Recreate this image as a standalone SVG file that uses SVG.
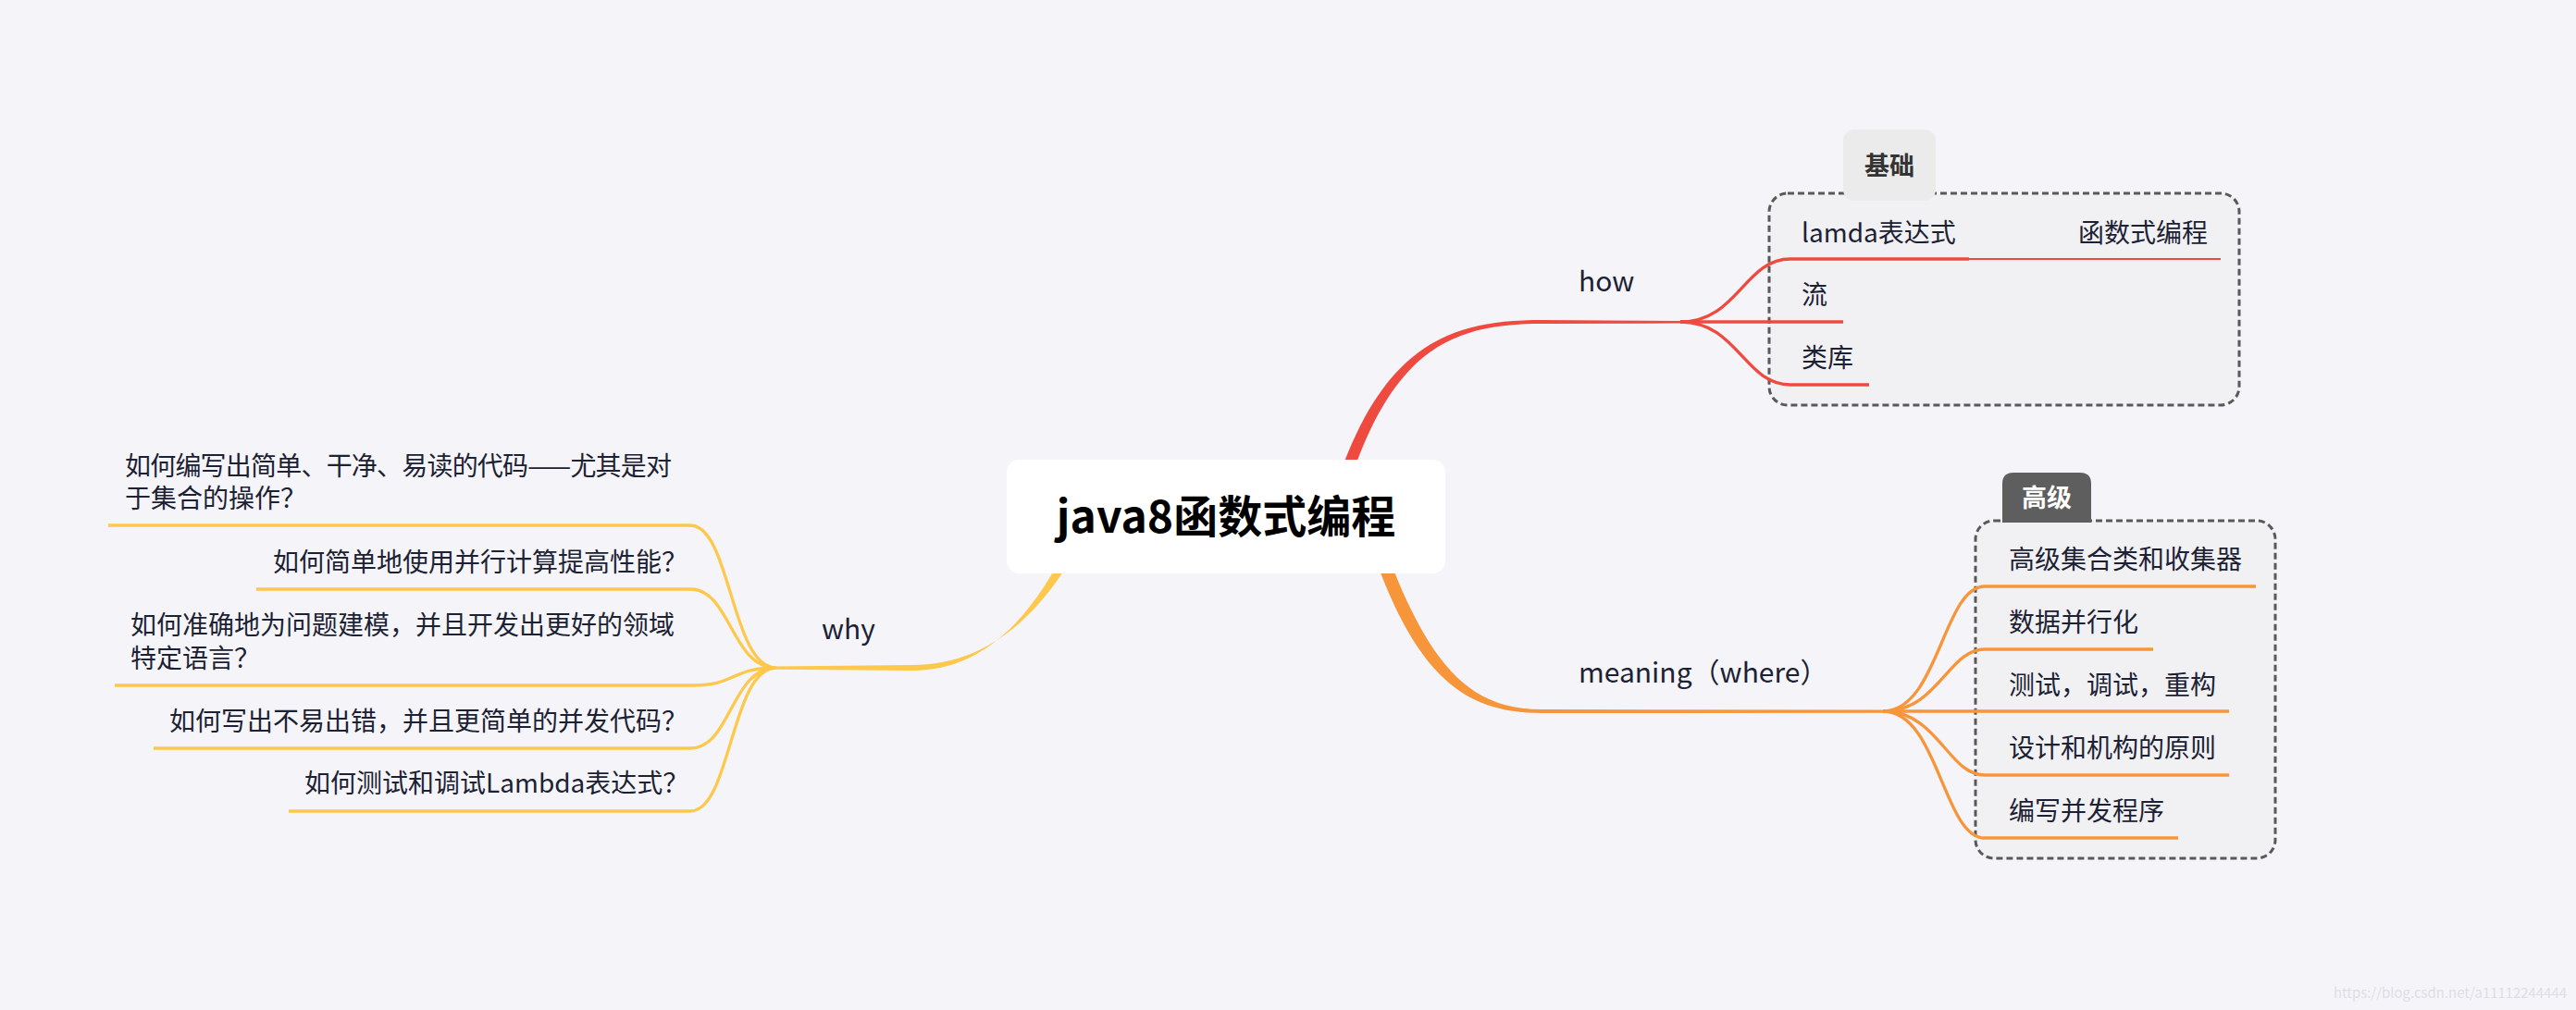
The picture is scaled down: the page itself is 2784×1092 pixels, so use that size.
<svg xmlns="http://www.w3.org/2000/svg" width="2784" height="1092" viewBox="0 0 2784 1092">
<style>
text { font-family: "Noto Sans CJK SC", "Noto Sans", sans-serif; }
.t { font-size: 28px; fill: #1c2233; }
.m { font-size: 30px; fill: #1c2233; }
.root { font-size: 48px; font-weight: bold; fill: #000; }
.tag { font-size: 27px; font-weight: bold; text-anchor: middle; }
.bnd { fill: #f1f1f4; stroke: #595959; stroke-width: 3; stroke-dasharray: 7 4; }
.r { fill: none; stroke: #ee4a40; stroke-width: 3.3; }
.o { fill: none; stroke: #f7953b; stroke-width: 3.3; }
.y { fill: none; stroke: #fdc84b; stroke-width: 3.3; }
</style>
<rect x="0" y="0" width="2784" height="1092" fill="#f5f5f9"/>

<g id="boundary-basics">
<rect class="bnd" x="1912" y="209" width="508" height="229" rx="20"/>
</g>
<g id="boundary-advanced">
<rect class="bnd" x="2135" y="563" width="324" height="365" rx="20"/>
</g>

<g id="connectors">
<path fill="#ee4a40" d="M 1433 560 C 1484 378, 1558 346, 1666 346 L 1818 347 L 1818 349.5 L 1666 350 C 1562 350, 1496 382, 1447 560 Z"/>
<path fill="#f7953b" d="M 1471 558 C 1522 724, 1576 771, 1666 771 L 2040 770.7 L 2040 767.5 L 1666 767 C 1584 767, 1538 716, 1485 558 Z"/>
<path fill="#fdc84b" d="M 1168 558 C 1123 664, 1066 725, 986 725 L 837 723.8 L 837 720.5 L 986 719 C 1074 719, 1137 656, 1182 558 Z"/>

<path class="r" d="M 1816 348 C 1878 348, 1885 280, 1935 280 L 2128 280"/>
<path class="r" d="M 2128 280 L 2400 280" style="stroke-width:2"/>
<path class="r" d="M 1816 348 L 1992 348"/>
<path class="r" d="M 1816 348 C 1878 348, 1885 416, 1935 416 L 2020 416"/>

<path class="o" d="M 2035 769 C 2095 769, 2100 634, 2145 634 L 2438 634"/>
<path class="o" d="M 2035 769 C 2095 769, 2105 702, 2145 702 L 2327 702"/>
<path class="o" d="M 2035 769 L 2409 769"/>
<path class="o" d="M 2035 769 C 2095 769, 2105 838, 2145 838 L 2409 838"/>
<path class="o" d="M 2035 769 C 2095 769, 2100 906, 2145 906 L 2354 906"/>

<path class="y" d="M 839 722 C 790 722, 790 568, 746 568 L 117 568"/>
<path class="y" d="M 839 722 C 790 722, 790 637, 746 637 L 277 637"/>
<path class="y" d="M 839 722 C 790 722, 795 741, 750 741 L 124 741"/>
<path class="y" d="M 839 722 C 790 722, 790 809, 746 809 L 166 809"/>
<path class="y" d="M 839 722 C 790 722, 790 877, 746 877 L 312 877"/>
</g>

<g id="tag-basics">
<rect x="1992" y="140" width="100" height="77" rx="12" fill="#ebebeb"/>
<text class="tag" x="2042" y="189" fill="#333">基础</text>
</g>
<g id="tag-advanced">
<path d="M 2164 565 L 2164 523 Q 2164 511 2176 511 L 2248 511 Q 2260 511 2260 523 L 2260 565 Z" fill="#5e5e5e"/>
<text class="tag" x="2212" y="548" fill="#fff">高级</text>
</g>

<g id="root">
<rect x="1088" y="497" width="474" height="123" rx="14" fill="#fff"/>
<text class="root" x="1325" y="576" text-anchor="middle">java8函数式编程</text>
</g>

<g id="how"><text class="m" x="1706" y="315">how</text></g>
<g id="lamda"><text class="t" x="1947" y="262">lamda表达式</text></g>
<g id="functional"><text class="t" x="2246" y="262">函数式编程</text></g>
<g id="stream"><text class="t" x="1947" y="329">流</text></g>
<g id="library"><text class="t" x="1947" y="397">类库</text></g>

<g id="meaning"><text class="m" x="1706" y="738">meaning（where）</text></g>
<g id="m1"><text class="t" x="2171" y="615">高级集合类和收集器</text></g>
<g id="m2"><text class="t" x="2171" y="683">数据并行化</text></g>
<g id="m3"><text class="t" x="2171" y="751">测试，调试，重构</text></g>
<g id="m4"><text class="t" x="2171" y="819">设计和机构的原则</text></g>
<g id="m5"><text class="t" x="2171" y="887">编写并发程序</text></g>

<g id="why"><text class="m" x="888" y="691">why</text></g>
<g id="w1"><text class="t" x="135" y="514" textLength="591" lengthAdjust="spacing">如何编写出简单、干净、易读的代码——尤其是对</text><text class="t" x="135" y="549">于集合的操作？</text></g>
<g id="w2"><text class="t" x="295" y="618">如何简单地使用并行计算提高性能？</text></g>
<g id="w3"><text class="t" x="141" y="686">如何准确地为问题建模，并且开发出更好的领域</text><text class="t" x="141" y="722">特定语言？</text></g>
<g id="w4"><text class="t" x="183" y="790">如何写出不易出错，并且更简单的并发代码？</text></g>
<g id="w5"><text class="t" x="329" y="857">如何测试和调试Lambda表达式？</text></g>

<text x="2522" y="1079" font-family="Liberation Sans, Arial, sans-serif" font-size="15" textLength="252" lengthAdjust="spacingAndGlyphs" fill="#dedee5">https://blog.csdn.net/a11112244444</text>
</svg>
